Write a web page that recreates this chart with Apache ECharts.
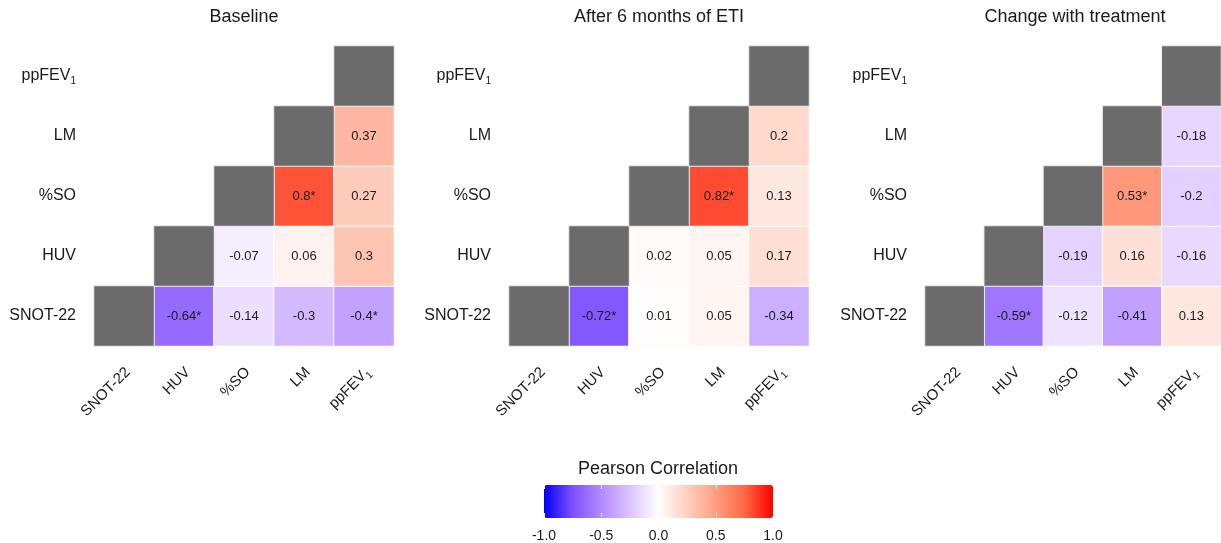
<!DOCTYPE html>
<html lang="en">
<head>
<meta charset="UTF-8">
<title>Pearson correlation heatmaps</title>
<script src="https://cdn.jsdelivr.net/npm/echarts@6/dist/echarts.min.js"></script>
<style>
  html, body { margin: 0; padding: 0; background: #fff; }
  #chart { width: 1221px; height: 543px; }
</style>
</head>
<body>
<div id="chart"></div>
<script>
// variables, bottom to top on y and left to right on x
var categories = ['SNOT-22', 'HUV', '%SO', 'LM', 'ppFEV1'];

// pairs shown in the upper triangle
var pairX = ['HUV', '%SO', 'LM', 'ppFEV1', '%SO', 'LM', 'ppFEV1', 'LM', 'ppFEV1', 'ppFEV1'];
var pairY = ['SNOT-22', 'SNOT-22', 'SNOT-22', 'SNOT-22', 'HUV', 'HUV', 'HUV', '%SO', '%SO', 'LM'];

var baselineR   = [-0.64, -0.14, -0.3, -0.4, -0.07, 0.06, 0.3, 0.8, 0.27, 0.37];
var baselineSig = [1, 0, 0, 1, 0, 0, 0, 1, 0, 0];
var etiR        = [-0.72, 0.01, 0.05, -0.34, 0.02, 0.05, 0.17, 0.82, 0.13, 0.2];
var etiSig      = [1, 0, 0, 0, 0, 0, 0, 1, 0, 0];
var changeR     = [-0.59, -0.12, -0.41, 0.13, -0.19, 0.16, -0.16, 0.53, -0.2, -0.18];
var changeSig   = [1, 0, 0, 0, 0, 0, 0, 1, 0, 0];

var panelTitles = ['Baseline', 'After 6 months of ETI', 'Change with treatment'];
var legendTitle = 'Pearson Correlation';

var FONT = 'Arial, "Liberation Sans", Helvetica, sans-serif';
var TXT = '#1a1a1a';
var panels = [
    {r: baselineR, sig: baselineSig, left: 94},
    {r: etiR, sig: etiSig, left: 509},
    {r: changeR, sig: changeSig, left: 925}
];

function catLabel(v) {
    return v === 'ppFEV1' ? 'ppFEV{sub|1}' : v;
}
var subRich = {sub: {fontSize: 10, lineHeight: 10, verticalAlign: 'bottom', color: TXT, fontFamily: FONT}};

var grids = [], xAxes = [], yAxes = [], series = [], titles = [];

panels.forEach(function (p, i) {
    // last panel runs off the right edge, like the source figure
    grids.push({left: p.left, top: 46, right: 1221 - p.left - 300, height: 300});
    xAxes.push({
        type: 'category', gridIndex: i, data: categories,
        axisLine: {show: false}, axisTick: {show: false}, splitLine: {show: false},
        axisLabel: {
            rotate: 45, margin: 20, padding: [11, 0, 0, 0], fontSize: 15, lineHeight: 20,
            color: TXT, fontFamily: FONT, formatter: catLabel, rich: subRich
        }
    });
    yAxes.push({
        type: 'category', gridIndex: i, data: categories,
        axisLine: {show: false}, axisTick: {show: false}, splitLine: {show: false},
        axisLabel: {
            margin: 18, fontSize: 16, lineHeight: 20, color: TXT, fontFamily: FONT,
            formatter: catLabel, rich: subRich
        }
    });
    titles.push({
        text: panelTitles[i], left: p.left + 150, top: 8, textAlign: 'center', padding: 0,
        textStyle: {fontSize: 18, fontWeight: 'normal', color: TXT, fontFamily: FONT}
    });

    var cells = pairX.map(function (x, k) {
        return {value: [x, pairY[k], p.r[k]], star: p.sig[k] === 1};
    });
    series.push({
        type: 'heatmap', xAxisIndex: i, yAxisIndex: i, data: cells,
        itemStyle: {borderColor: '#ffffff', borderWidth: 1},
        label: {
            show: true, fontSize: 13, color: TXT, fontFamily: FONT,
            formatter: function (prm) {
                return String(prm.value[2]) + (prm.data.star ? '*' : '');
            }
        },
        emphasis: {disabled: true}
    });
});

// grey diagonal cells
panels.forEach(function (p, i) {
    series.push({
        type: 'heatmap', xAxisIndex: i, yAxisIndex: i,
        data: categories.map(function (c) { return [c, c, 0]; }),
        itemStyle: {color: '#6b6b6b', borderColor: '#eeeeee', borderWidth: 1},
        label: {show: false},
        emphasis: {disabled: true}
    });
});

// legend tick axis under the colour bar
grids.push({left: 544, top: 485, width: 229, height: 33});
xAxes.push({
    type: 'value', gridIndex: 3, min: -1, max: 1, interval: 0.5, z: 10,
    axisLine: {show: false}, splitLine: {show: false},
    axisTick: {show: true, inside: true, length: 4, lineStyle: {color: '#ffffff', width: 1}},
    axisLabel: {margin: 12, fontSize: 14, color: TXT, fontFamily: FONT,
        formatter: function (v) { return v.toFixed(1); }}
});
xAxes.push({
    type: 'value', gridIndex: 3, position: 'top', min: -1, max: 1, interval: 0.5, z: 10,
    axisLine: {show: false}, splitLine: {show: false}, axisLabel: {show: false},
    axisTick: {show: true, inside: true, length: 4, lineStyle: {color: '#ffffff', width: 1}}
});
yAxes.push({type: 'value', gridIndex: 3, show: false, min: 0, max: 1});

titles.push({
    text: legendTitle, left: 658, top: 460, textAlign: 'center', padding: 0,
    textStyle: {fontSize: 18, fontWeight: 'normal', color: TXT, fontFamily: FONT}
});

var chart = echarts.init(document.getElementById('chart'));
chart.setOption({
    animation: false,
    backgroundColor: '#ffffff',
    title: titles,
    grid: grids,
    xAxis: xAxes,
    yAxis: yAxes,
    visualMap: {
        type: 'continuous', min: -1, max: 1, seriesIndex: [0, 1, 2],
        orient: 'horizontal', left: 544, top: 485, padding: 0,
        itemWidth: 33, itemHeight: 229, calculable: false, text: null,
        inRange: {color: ['#0000FF', '#7E51FF', '#B38BFF', '#DCC4FF', '#FFFFFF',
            '#FFCFBF', '#FF9E81', '#FF6846', '#FF0000']}
    },
    series: series
});
</script>
</body>
</html>
